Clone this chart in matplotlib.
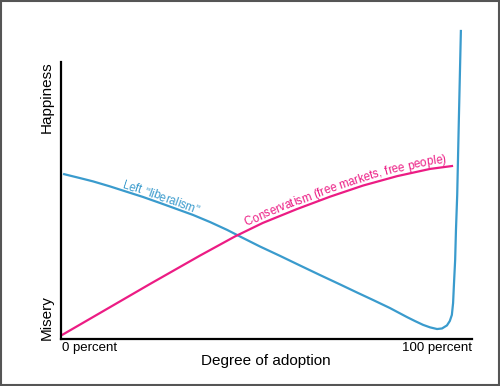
import numpy as np
import matplotlib
matplotlib.use("Agg")
import matplotlib.pyplot as plt
from matplotlib.patches import Rectangle
from matplotlib.transforms import IdentityTransform
from matplotlib.font_manager import findfont, FontProperties
from matplotlib.ft2font import FT2Font

plt.rcParams['font.family'] = ['Liberation Sans', 'DejaVu Sans']

# degree of adoption (percent) vs happiness (0 = misery, 100 = happiness)
left_x = [0.5, 4.6, 7.8, 11.9, 16.1, 19.9, 24.1, 28.2, 32.1, 36.3, 40.4, 44.5,
          48.4, 53.3, 58.2, 63.0, 67.9, 72.0, 75.9, 80.0, 84.2, 86.1, 88.1, 89.8,
          91.5, 92.7, 93.9, 94.6, 95.1, 95.4, 95.6, 95.9, 96.1, 96.4, 96.8, 97.3]
left_y = [59.6, 58.1, 56.9, 55.1, 53.1, 51.3, 49.1, 46.9, 44.8, 42.2, 39.4, 36.3,
          33.4, 30.0, 26.5, 23.1, 19.7, 16.8, 14.1, 11.2, 7.9, 6.5, 5.1, 4.2,
          3.6, 3.8, 4.9, 6.5, 8.7, 13.0, 19.5, 28.5, 39.4, 52.0, 79.1, 111.6]

cons_x = [0.2, 9.5, 21.7, 33.8, 42.3, 49.1, 57.4, 65.5, 73.5, 81.8, 89.8, 95.4]
cons_y = [1.4, 9.4, 19.9, 30.1, 37.0, 41.9, 46.9, 51.4, 55.4, 58.8, 61.4, 62.5]

blue = '#3a9bcd'
pink = '#ec1c84'

fig = plt.figure(figsize=(5, 3.86), dpi=100)
ax = fig.add_axes([61/500, 1 - 339/386, 411/500, 277/386])

ax.plot(left_x, left_y, color=blue, lw=1.6, clip_on=False, solid_capstyle='butt')
ax.plot(cons_x, cons_y, color=pink, lw=1.6, clip_on=False, solid_capstyle='butt')

ax.set_xlim(0, 100)
ax.set_ylim(0, 100)
ax.set_xticks([])
ax.set_yticks([])
for s in ['top', 'right']:
    ax.spines[s].set_visible(False)
for s in ['left', 'bottom']:
    ax.spines[s].set_linewidth(1.6)
    ax.spines[s].set_color('black')


def text_on_curve(xs, ys, s, x_start, offset, size, color):
    # put the label letter by letter along the line, a few pixels above it
    pts = ax.transData.transform(np.column_stack([xs, ys]))
    seg = np.hypot(np.diff(pts[:, 0]), np.diff(pts[:, 1]))
    arc = np.concatenate([[0], np.cumsum(seg)])
    a = np.interp(x_start, xs, arc)
    font = FT2Font(findfont(FontProperties(family='Liberation Sans')))
    font.set_size(size, fig.dpi)
    for ch in s:
        adv = font.load_char(ord(ch)).linearHoriAdvance / 65536
        m = a + adv / 2
        k = min(max(np.searchsorted(arc, m), 1), len(arc) - 1)
        dx, dy = pts[k] - pts[k - 1]
        n = np.hypot(dx, dy)
        px = np.interp(m, arc, pts[:, 0]) - dy / n * offset
        py = np.interp(m, arc, pts[:, 1]) + dx / n * offset
        if ch != ' ':
            fig.text(px, py, ch, transform=IdentityTransform(), fontsize=size, color=color,
                     rotation=np.degrees(np.arctan2(dy, dx)), rotation_mode='anchor',
                     ha='center', va='baseline')
        a += adv


text_on_curve(left_x, left_y, 'Left "liberalism"', 14.6, 2.5, 8.3, blue)
text_on_curve(cons_x, cons_y, 'Conservatism (free markets, free people)', 45.6, 4.0, 8.3, pink)

# axis labels
ax.text(-3.4, 87.4, 'Happiness', fontsize=11, rotation=90, ha='center', va='center', clip_on=False)
ax.text(-3.4, 7.6, 'Misery', fontsize=11, rotation=90, ha='center', va='center', clip_on=False)
ax.text(0.2, -1.0, '0 percent', fontsize=9.5, ha='left', va='top')
ax.text(100, -1.0, '100 percent', fontsize=9.5, ha='right', va='top')
ax.text(49.9, -7.9, 'Degree of adoption', fontsize=11, ha='center', va='center')

fig.patches.append(Rectangle((0.002, 0.003), 0.996, 0.994, transform=fig.transFigure,
                             fill=False, edgecolor='#555555', lw=1.5))

fig.savefig('out.png', dpi=100)
